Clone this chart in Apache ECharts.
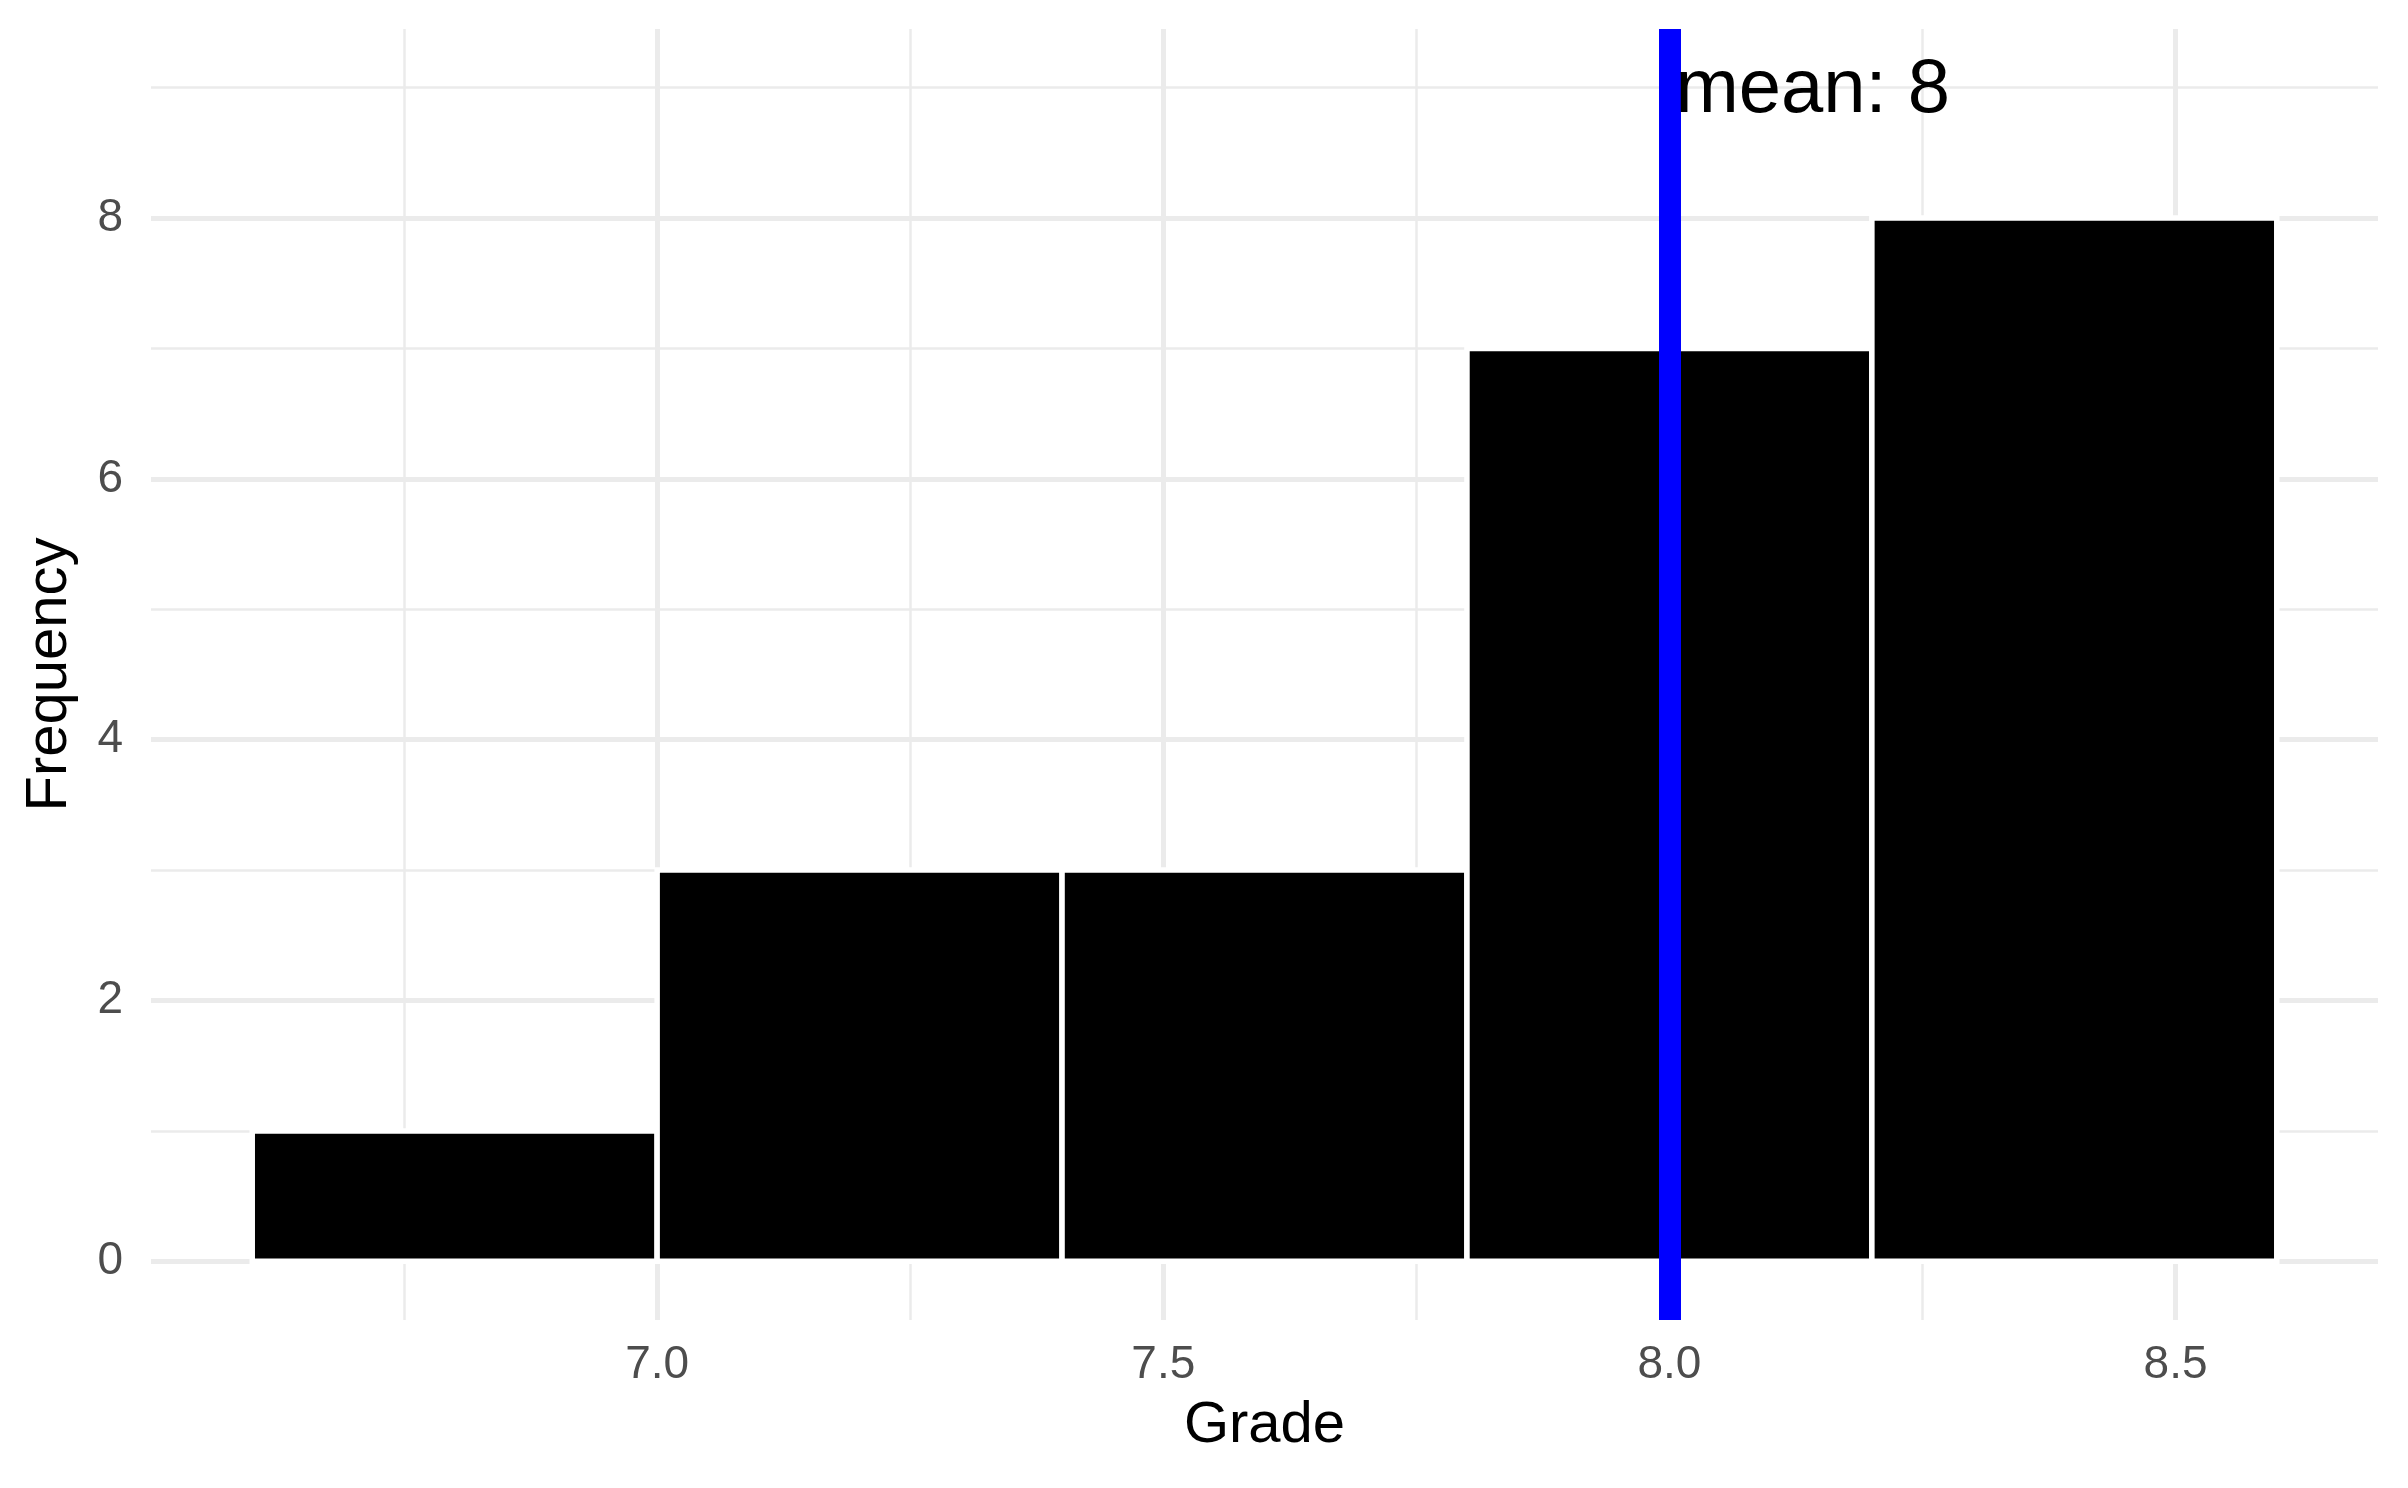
<!DOCTYPE html>
<html>
<head>
<meta charset="utf-8">
<script src="https://cdn.jsdelivr.net/npm/echarts@6/dist/echarts.min.js"></script>
<style>
  html, body { margin: 0; padding: 0; background: #fff; }
  #chart { width: 2408px; height: 1488px; }
</style>
</head>
<body>
<div id="chart"></div>
<script>
// histogram bins (Grade) and counts
const binStart = [6.6, 7.0, 7.4, 7.8, 8.2];
const binEnd = [7.0, 7.4, 7.8, 8.2, 8.6];
const counts = [1, 3, 3, 7, 8];
const meanGrade = 8;
const meanLabelY = 9;

// tick positions
const xMajorTicks = [7.0, 7.5, 8.0, 8.5];
const xMinorTicks = [6.75, 7.25, 7.75, 8.25];
const yMajorTicks = [0, 2, 4, 6, 8];
const yMinorTicks = [1, 3, 5, 7, 9];

const gridColor = "#ebebeb";
const font = "Liberation Sans, Arial, sans-serif";

let chart = echarts.init(document.getElementById("chart"));

let histData = binStart.map(function (s, i) {
  return [s, binEnd[i], counts[i]];
});

chart.setOption({
  backgroundColor: "#fff",
  animation: false,
  grid: {
    left: 151,
    right: 30,
    top: 29,
    bottom: 168
  },
  xAxis: [
    {
      type: "value",
      min: 6.5,
      max: 8.7,
      name: "Grade",
      nameLocation: "middle",
      nameGap: 77,
      nameTextStyle: { color: "#000", fontSize: 58, fontFamily: font },
      axisLine: { show: false },
      axisTick: { show: false, customValues: xMajorTicks },
      axisLabel: {
        customValues: xMajorTicks,
        margin: 22,
        color: "#4d4d4d",
        fontSize: 46,
        fontFamily: font,
        formatter: function (v) { return v.toFixed(1); }
      },
      splitLine: { show: true, lineStyle: { color: gridColor, width: 5 } }
    },
    {
      type: "value",
      min: 6.5,
      max: 8.7,
      axisLine: { show: false },
      axisTick: { show: false, customValues: xMinorTicks },
      axisLabel: { show: false, customValues: xMinorTicks },
      splitLine: { show: true, lineStyle: { color: gridColor, width: 2.5 } }
    }
  ],
  yAxis: [
    {
      type: "value",
      min: -0.45,
      max: 9.45,
      name: "Frequency",
      nameLocation: "middle",
      nameGap: 72,
      nameTextStyle: { color: "#000", fontSize: 58, fontFamily: font },
      axisLine: { show: false },
      axisTick: { show: false, customValues: yMajorTicks },
      axisLabel: {
        customValues: yMajorTicks,
        margin: 28,
        color: "#4d4d4d",
        fontSize: 46,
        fontFamily: font
      },
      splitLine: { show: true, lineStyle: { color: gridColor, width: 5 } }
    },
    {
      type: "value",
      min: -0.45,
      max: 9.45,
      position: "left",
      axisLine: { show: false },
      axisTick: { show: false, customValues: yMinorTicks },
      axisLabel: { show: false, customValues: yMinorTicks },
      splitLine: { show: true, lineStyle: { color: gridColor, width: 2.5 } }
    }
  ],
  series: [
    {
      type: "custom",
      xAxisIndex: 0,
      yAxisIndex: 0,
      z: 2,
      data: histData,
      encode: { x: [0, 1], y: 2 },
      renderItem: function (params, api) {
        let p0 = api.coord([api.value(0), api.value(2)]);
        let p1 = api.coord([api.value(1), 0]);
        return {
          type: "rect",
          shape: { x: p0[0], y: p0[1], width: p1[0] - p0[0], height: p1[1] - p0[1] },
          style: { fill: "#000", stroke: "#fff", lineWidth: 5.5 }
        };
      }
    },
    {
      type: "scatter",
      xAxisIndex: 0,
      yAxisIndex: 0,
      z: 5,
      symbolSize: 0,
      data: [[meanGrade, meanLabelY]],
      label: {
        show: true,
        position: "right",
        distance: 6,
        offset: [0, 3],
        formatter: "mean: " + meanGrade,
        color: "#000000",
        opacity: 1,
        textBorderWidth: 0,
        fontSize: 76,
        fontFamily: font
      },
      markLine: {
        silent: true,
        symbol: ["none", "none"],
        label: { show: false },
        lineStyle: { color: "#0000ff", width: 22, type: "solid", opacity: 1 },
        data: [{ xAxis: meanGrade }]
      }
    }
  ]
});
</script>
</body>
</html>
